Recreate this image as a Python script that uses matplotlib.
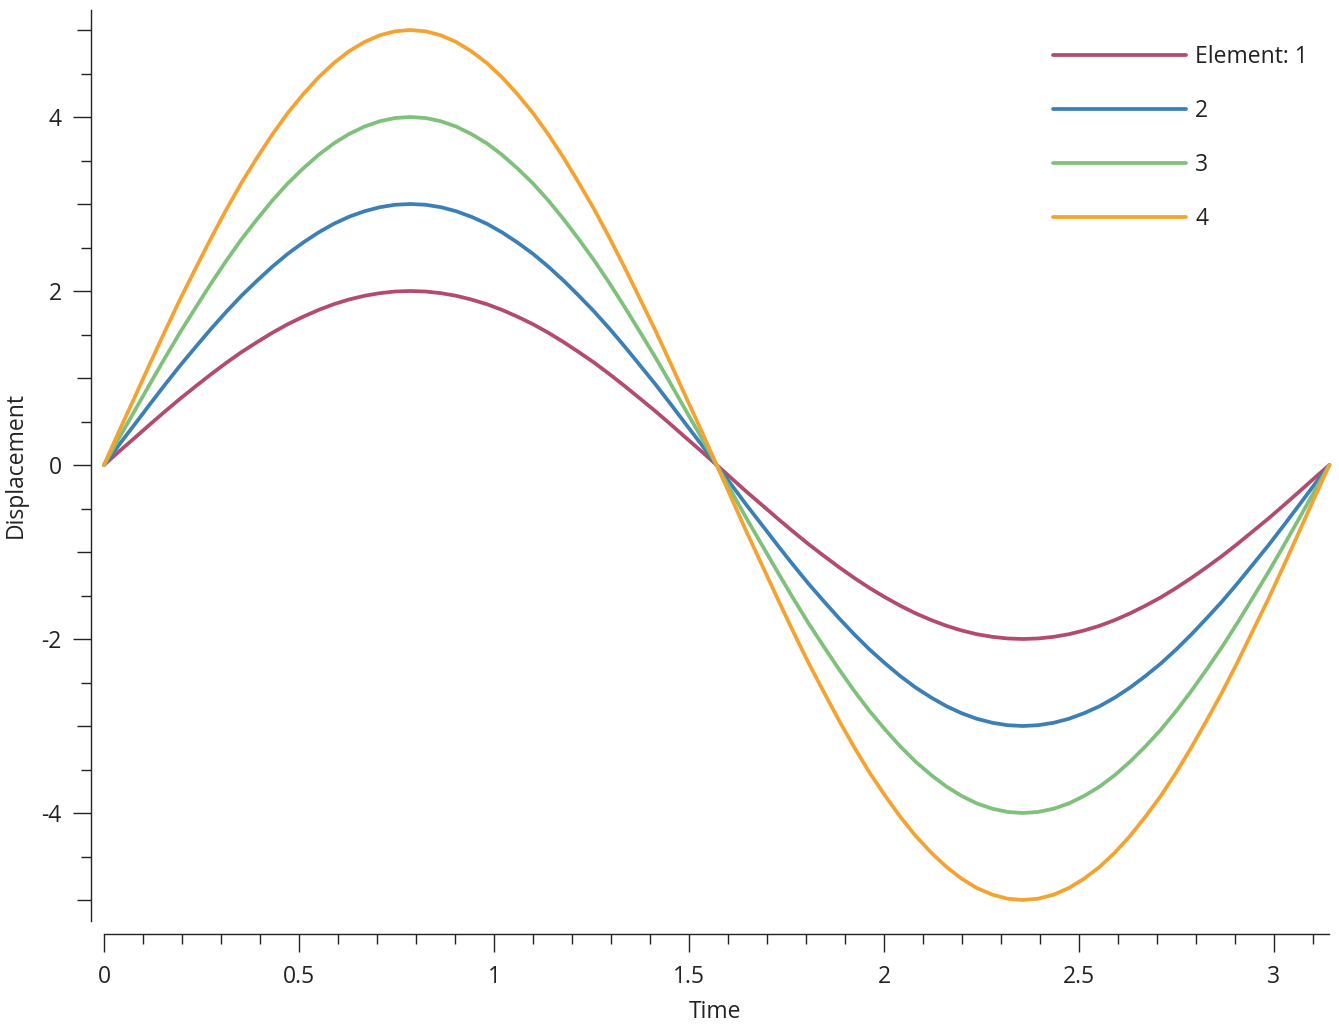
import matplotlib
matplotlib.use("Agg")
import matplotlib.pyplot as plt
from matplotlib.ticker import MultipleLocator, FixedLocator

plt.rcParams['font.family'] = ['Open Sans', 'DejaVu Sans']

time = [0, 0.039, 0.079, 0.118, 0.157, 0.196, 0.236, 0.275, 0.314, 0.353, 0.393,
        0.432, 0.471, 0.511, 0.550, 0.589, 0.628, 0.668, 0.707, 0.746, 0.785,
        0.825, 0.864, 0.903, 0.942, 0.982, 1.021, 1.060, 1.100, 1.139, 1.178,
        1.217, 1.257, 1.296, 1.335, 1.374, 1.414, 1.453, 1.492, 1.532, 1.571,
        1.610, 1.649, 1.689, 1.728, 1.767, 1.806, 1.846, 1.885, 1.924, 1.963,
        2.003, 2.042, 2.081, 2.121, 2.160, 2.199, 2.238, 2.278, 2.317, 2.356,
        2.395, 2.435, 2.474, 2.513, 2.553, 2.592, 2.631, 2.670, 2.710, 2.749,
        2.788, 2.827, 2.867, 2.906, 2.945, 2.985, 3.024, 3.063, 3.102, 3.142]

element_1 = [0, 0.157, 0.313, 0.467, 0.618, 0.765, 0.908, 1.045, 1.176, 1.299, 1.414,
             1.521, 1.618, 1.705, 1.782, 1.848, 1.902, 1.945, 1.975, 1.994, 2.000,
             1.994, 1.975, 1.945, 1.902, 1.848, 1.782, 1.705, 1.618, 1.521, 1.414,
             1.299, 1.176, 1.045, 0.908, 0.765, 0.618, 0.467, 0.313, 0.157, 0,
             -0.157, -0.313, -0.467, -0.618, -0.765, -0.908, -1.045, -1.176, -1.299, -1.414,
             -1.521, -1.618, -1.705, -1.782, -1.848, -1.902, -1.945, -1.975, -1.994, -2.000,
             -1.994, -1.975, -1.945, -1.902, -1.848, -1.782, -1.705, -1.618, -1.521, -1.414,
             -1.299, -1.176, -1.045, -0.908, -0.765, -0.618, -0.467, -0.313, -0.157, 0]
element_2 = [0, 0.235, 0.469, 0.700, 0.927, 1.148, 1.362, 1.568, 1.763, 1.948, 2.121,
             2.281, 2.427, 2.558, 2.673, 2.772, 2.853, 2.917, 2.963, 2.991, 3.000,
             2.991, 2.963, 2.917, 2.853, 2.772, 2.673, 2.558, 2.427, 2.281, 2.121,
             1.948, 1.763, 1.568, 1.362, 1.148, 0.927, 0.700, 0.469, 0.235, 0,
             -0.235, -0.469, -0.700, -0.927, -1.148, -1.362, -1.568, -1.763, -1.948, -2.121,
             -2.281, -2.427, -2.558, -2.673, -2.772, -2.853, -2.917, -2.963, -2.991, -3.000,
             -2.991, -2.963, -2.917, -2.853, -2.772, -2.673, -2.558, -2.427, -2.281, -2.121,
             -1.948, -1.763, -1.568, -1.362, -1.148, -0.927, -0.700, -0.469, -0.235, 0]
element_3 = [0, 0.314, 0.626, 0.934, 1.236, 1.531, 1.816, 2.090, 2.351, 2.598, 2.828,
             3.042, 3.236, 3.410, 3.564, 3.696, 3.804, 3.890, 3.951, 3.988, 4.000,
             3.988, 3.951, 3.890, 3.804, 3.696, 3.564, 3.410, 3.236, 3.042, 2.828,
             2.598, 2.351, 2.090, 1.816, 1.531, 1.236, 0.934, 0.626, 0.314, 0,
             -0.314, -0.626, -0.934, -1.236, -1.531, -1.816, -2.090, -2.351, -2.598, -2.828,
             -3.042, -3.236, -3.410, -3.564, -3.696, -3.804, -3.890, -3.951, -3.988, -4.000,
             -3.988, -3.951, -3.890, -3.804, -3.696, -3.564, -3.410, -3.236, -3.042, -2.828,
             -2.598, -2.351, -2.090, -1.816, -1.531, -1.236, -0.934, -0.626, -0.314, 0]
element_4 = [0, 0.392, 0.782, 1.167, 1.545, 1.913, 2.270, 2.612, 2.939, 3.247, 3.536,
             3.802, 4.045, 4.263, 4.455, 4.619, 4.755, 4.862, 4.939, 4.985, 5.000,
             4.985, 4.939, 4.862, 4.755, 4.619, 4.455, 4.263, 4.045, 3.802, 3.536,
             3.247, 2.939, 2.612, 2.270, 1.913, 1.545, 1.167, 0.782, 0.392, 0,
             -0.392, -0.782, -1.167, -1.545, -1.913, -2.270, -2.612, -2.939, -3.247, -3.536,
             -3.802, -4.045, -4.263, -4.455, -4.619, -4.755, -4.862, -4.939, -4.985, -5.000,
             -4.985, -4.939, -4.862, -4.755, -4.619, -4.455, -4.263, -4.045, -3.802, -3.536,
             -3.247, -2.939, -2.612, -2.270, -1.913, -1.545, -1.167, -0.782, -0.392, 0]

labels = ["Element: 1", "2", "3", "4"]
colors = ["#b24b6c", "#3b7fb7", "#7fc07b", "#f5a330"]
series = [element_1, element_2, element_3, element_4]

W, H = 1339, 1024
fig = plt.figure(figsize=(W / 100, H / 100), dpi=100)
ax_left, ax_right, ax_top, ax_bottom = 91, 1339, 10, 921
ax = fig.add_axes([ax_left / W, 1 - ax_bottom / H, (ax_right - ax_left) / W, (ax_bottom - ax_top) / H])

for y, lab, c in zip(series, labels, colors):
    ax.plot(time, y, color=c, lw=2.7, label=lab, solid_joinstyle='round', solid_capstyle='round')

# pixel mapping: t=0 at x=104, 390 px per unit; y=0 at 465, 87 px per unit
ax.set_xlim((ax_left - 104) / 390, (ax_right - 104) / 390)
ax.set_ylim(-(ax_bottom - 465) / 87, (465 - ax_top) / 87)

for s in ['top', 'right']:
    ax.spines[s].set_visible(False)
ax.spines['bottom'].set_position(('outward', 13 * 0.72))
ax.spines['bottom'].set_bounds(0, 3.1416)
for s in ['left', 'bottom']:
    ax.spines[s].set_color('#222222')
    ax.spines[s].set_linewidth(1.0)

ax.set_xticks([0, 0.5, 1, 1.5, 2, 2.5, 3])
ax.set_xticklabels(["0", "0.5", "1", "1.5", "2", "2.5", "3"])
ax.xaxis.set_minor_locator(MultipleLocator(0.1))

yt = [-5, -4, -3, -2, -1, 0, 1, 2, 3, 4, 5]
ax.set_yticks(yt)
ax.set_yticklabels(["" if v % 2 else ("-" + str(-v) if v < 0 else str(v)) for v in yt])
ax.yaxis.set_minor_locator(FixedLocator([v + 0.5 for v in range(-5, 5)]))

ax.tick_params(axis='both', which='major', direction='out', length=13, width=1.0,
               color='#222222', labelsize=16.5, labelcolor='#222222')
ax.tick_params(axis='x', which='major', pad=9)
ax.tick_params(axis='y', which='major', pad=8)
ax.tick_params(axis='both', which='minor', direction='out', length=7.5, width=1.0, color='#222222')
for tk, v in zip(ax.yaxis.get_major_ticks(), yt):
    if v % 2:
        tk.tick1line.set_markersize(10)

ax.set_xlabel("Time", fontsize=16.5, color='#222222', labelpad=8)
ax.set_ylabel("Displacement", fontsize=16.5, color='#222222', labelpad=10)

leg = ax.legend(loc='upper right',
                bbox_to_anchor=(1 - 22 / (ax_right - ax_left), 1 - 26 / (ax_bottom - ax_top)),
                frameon=False, fontsize=16.5, handlelength=5.8, handletextpad=0.4,
                labelspacing=1.3, borderaxespad=0)
for t in leg.get_texts():
    t.set_color('#222222')

fig.savefig("out.png", dpi=100)
